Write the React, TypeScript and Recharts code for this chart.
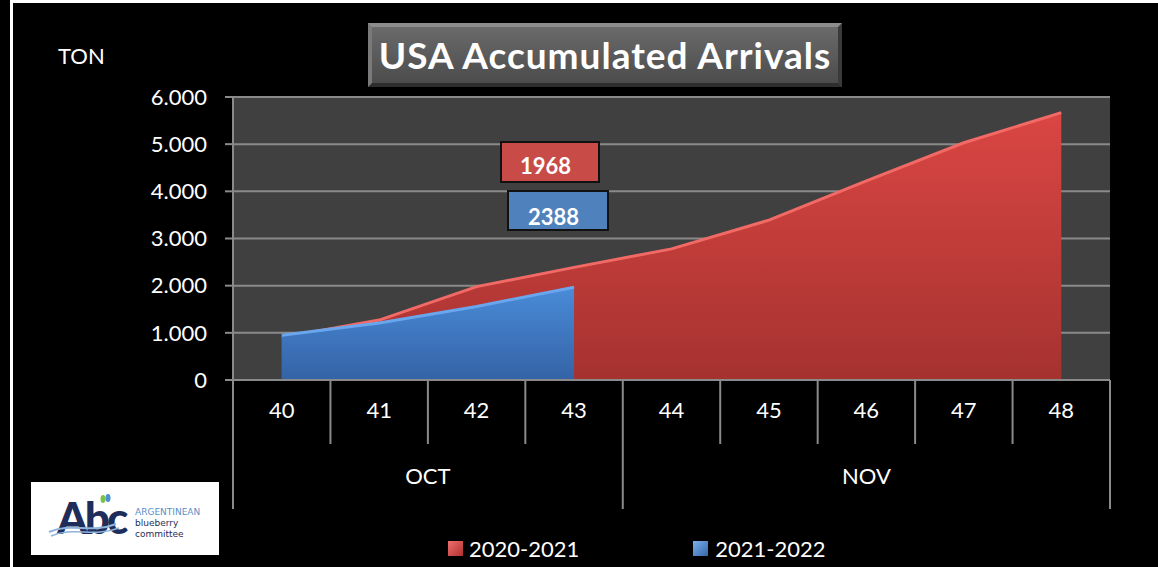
import React from "react";
import { AreaChart, Area, XAxis, YAxis, CartesianGrid } from "recharts";

const weeks = ["40", "41", "42", "43", "44", "45", "46", "47", "48"];
const months = ["OCT", "OCT", "OCT", "OCT", "NOV", "NOV", "NOV", "NOV", "NOV"];
const season2021 = [900, 1270, 1980, 2388, 2780, 3390, 4220, 5030, 5670];
const season2122 = [950, 1210, 1560, 1968, null, null, null, null, null];
const yTicks = [0, 1000, 2000, 3000, 4000, 5000, 6000];
const seriesNames = ["2020-2021", "2021-2022"];
const boxLabels = ["1968", "2388"];

const W = 1158;
const H = 567;
const margin = { top: 97, right: 48, left: 0, bottom: 70 };
const Y_AXIS_W = 233;
const X_AXIS_H = 117;
const BAND = (W - margin.left - Y_AXIS_W - margin.right) / weeks.length;

const FONT = "Lato, 'Open Sans', sans-serif";
const GRID = "#8a8a8a";

const data = weeks.map((w, i) => ({
  week: w,
  month: months[i],
  s2021: season2021[i],
  s2122: season2122[i],
}));

const fmt = (v: number) => String(v).replace(/\B(?=(\d{3})+(?!\d))/g, ".");

// two level category axis: week number on top, month group below
const WeekTick = (props: any) => {
  const { x, y, payload } = props;
  const i = props.index ?? payload.index;
  const monthStart = i === 0 || months[i] !== months[i - 1];
  const last = i === weeks.length - 1;
  let monthLabel = null;
  if (monthStart) {
    let n = 0;
    while (months[i + n] === months[i]) n++;
    const cx = x - BAND / 2 + (n * BAND) / 2;
    monthLabel = (
      <text x={cx} y={y + 98} fill="#fff" fontSize={22} fontFamily={FONT} textAnchor="middle" dominantBaseline="middle">
        {months[i]}
      </text>
    );
  }
  return (
    <g>
      <line x1={x - BAND / 2} x2={x - BAND / 2} y1={y} y2={y + (monthStart ? 129 : 64)} stroke={GRID} strokeWidth={2} />
      {last && <line x1={x + BAND / 2} x2={x + BAND / 2} y1={y} y2={y + 129} stroke={GRID} strokeWidth={2} />}
      <text x={x} y={y + 32} fill="#fff" fontSize={22} fontFamily={FONT} textAnchor="middle" dominantBaseline="middle">
        {payload.value}
      </text>
      {monthLabel}
    </g>
  );
};

const LegendBox = () => (
  <div style={{ position: "absolute", left: 448, top: 535, display: "flex", alignItems: "center", fontSize: 22, color: "#fff" }}>
    <span style={{ width: 15, height: 15, background: "linear-gradient(135deg,#f07070,#b03030)", display: "inline-block" }} />
    <span style={{ marginLeft: 6 }}>{seriesNames[0]}</span>
    <span style={{ width: 15, height: 15, marginLeft: 114, background: "linear-gradient(135deg,#7ab0f0,#3566a8)", display: "inline-block" }} />
    <span style={{ marginLeft: 7 }}>{seriesNames[1]}</span>
  </div>
);

const Logo = () => (
  <div style={{ position: "absolute", left: 31, top: 482, width: 188, height: 73, background: "#fff" }}>
    <svg width={188} height={73}>
      <text x={26} y={52} fontFamily={FONT} fontWeight={900} fontSize={44} fill="#1f2d5a" letterSpacing={-3}>
        Abc
      </text>
      <path d="M18 50 C 40 40, 60 52, 85 42" stroke="#8fb4dc" strokeWidth={2} fill="none" />
      <path d="M20 54 C 42 44, 62 56, 88 46" stroke="#8fb4dc" strokeWidth={1.5} fill="none" />
      <ellipse cx={72} cy={17} rx={2.5} ry={4} fill="#7cc04a" />
      <ellipse cx={77} cy={16} rx={2.5} ry={4} fill="#4a90d0" />
      <text x={104} y={33} fontFamily="'DejaVu Sans', sans-serif" fontSize={9} fill="#5b8fc9">ARGENTINEAN</text>
      <text x={104} y={44} fontFamily="'DejaVu Sans', sans-serif" fontSize={9} fill="#1f2d5a">blueberry</text>
      <text x={104} y={55} fontFamily="'DejaVu Sans', sans-serif" fontSize={9} fill="#1f2d5a">committee</text>
    </svg>
  </div>
);

const App = () => {
  return (
    <div style={{ position: "absolute", left: 0, top: 0, width: W, height: H, background: "#000", overflow: "hidden", fontFamily: FONT }}>
      <div style={{ position: "absolute", left: 10, top: 0, width: 3, height: H, background: "#fff" }} />
      <div style={{ position: "absolute", left: 10, top: 0, width: W, height: 3, background: "#fff" }} />

      <AreaChart width={W} height={H} data={data} margin={margin} style={{ position: "absolute", left: 0, top: 0 }}>
        <defs>
          <linearGradient id="redFill" x1="0" y1="0" x2="0" y2="1">
            <stop offset="0%" stopColor="#da4643" />
            <stop offset="100%" stopColor="#a53230" />
          </linearGradient>
          <linearGradient id="blueFill" x1="0" y1="0" x2="0" y2="1">
            <stop offset="0%" stopColor="#4a8bd8" />
            <stop offset="100%" stopColor="#3463a6" />
          </linearGradient>
        </defs>
        <CartesianGrid vertical={false} stroke={GRID} strokeWidth={2} fill="#404040" />
        <XAxis
          dataKey="week"
          height={X_AXIS_H}
          interval={0}
          tickLine={false}
          tickSize={0}
          tickMargin={0}
          padding={{ left: BAND / 2, right: BAND / 2 }}
          axisLine={{ stroke: GRID, strokeWidth: 2 }}
          tick={<WeekTick />}
        />
        <YAxis
          width={Y_AXIS_W}
          domain={[0, 6000]}
          ticks={yTicks}
          tickFormatter={fmt}
          tickSize={8}
          tickMargin={18}
          axisLine={{ stroke: GRID, strokeWidth: 2 }}
          tickLine={{ stroke: GRID, strokeWidth: 2 }}
          tick={{ fill: "#fff", fontSize: 22, fontFamily: FONT }}
        />
        <Area
          type="linear"
          dataKey="s2021"
          name={seriesNames[0]}
          stroke="#f26a66"
          strokeWidth={3}
          fill="url(#redFill)"
          fillOpacity={1}
          isAnimationActive={false}
        />
        <Area
          type="linear"
          dataKey="s2122"
          name={seriesNames[1]}
          stroke="#6aa6ee"
          strokeWidth={3}
          fill="url(#blueFill)"
          fillOpacity={1}
          isAnimationActive={false}
        />
      </AreaChart>

      <LegendBox />

      <div style={{ position: "absolute", left: 58, top: 42, color: "#fff", fontSize: 22 }}>TON</div>

      <div
        style={{
          position: "absolute",
          left: 368,
          top: 23,
          width: 474,
          height: 64,
          boxSizing: "border-box",
          background: "linear-gradient(#6a6a6a, #4c4c4c)",
          borderTop: "4px solid #8c8c8c",
          borderLeft: "4px solid #7a7a7a",
          borderBottom: "4px solid #2e2e2e",
          borderRight: "4px solid #3a3a3a",
          color: "#fff",
          fontWeight: 700,
          fontSize: 37,
          letterSpacing: 1,
          textAlign: "center",
          lineHeight: "56px",
          whiteSpace: "nowrap",
        }}
      >
        USA Accumulated Arrivals
      </div>

      <div
        style={{
          position: "absolute", left: 500, top: 141, width: 100, height: 42, boxSizing: "border-box",
          background: "#c84b47", border: "2px solid #111", color: "#fff", fontWeight: 700, fontSize: 22,
          paddingLeft: 18, paddingTop: 10, lineHeight: "26px",
        }}
      >
        {boxLabels[0]}
      </div>
      <div
        style={{
          position: "absolute", left: 507, top: 190, width: 102, height: 41, boxSizing: "border-box",
          background: "#4f81bd", border: "2px solid #111", color: "#fff", fontWeight: 700, fontSize: 22,
          paddingLeft: 19, paddingTop: 12, lineHeight: "26px",
        }}
      >
        {boxLabels[1]}
      </div>

      <Logo />
    </div>
  );
};

export default App;
